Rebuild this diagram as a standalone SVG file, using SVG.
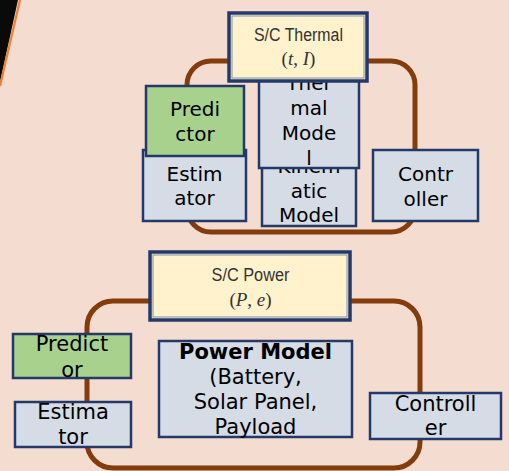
<svg xmlns="http://www.w3.org/2000/svg" width="509" height="471" viewBox="0 0 509 471">
<style>
.loop{fill:none;stroke:#843C0C;stroke-width:5}
.blue{fill:#D6DCE5;stroke:#22396A;stroke-width:2.5}
.green{fill:#A9D18E;stroke:#22396A;stroke-width:2.5}
.yel{fill:#FFF2CC;stroke:#22396A;stroke-width:3.5}
.inner{fill:none;stroke:#7F8FAA;stroke-width:1}
.t{font-family:"DejaVu Sans",sans-serif;font-size:20px;fill:#000;text-anchor:middle}
.t2{font-family:"DejaVu Sans",sans-serif;font-size:21px;fill:#000;text-anchor:middle}
.b{font-weight:bold}
.h{font-family:"Liberation Sans",sans-serif;font-size:18px;fill:#333;text-anchor:middle}
.m{font-family:"Liberation Serif",serif;font-size:19px;fill:#333;text-anchor:middle}
</style>
<rect width="509" height="471" fill="#F4DDD0"/>
<polygon points="0,0 18,0 0,82" fill="#0A0A0A"/>
<line x1="20" y1="0" x2="0" y2="86" stroke="#F08030" stroke-width="2.2"/>
<g id="connectors">
<rect class="loop" x="187" y="61" width="228" height="171" rx="24"/>
<rect class="loop" x="87" y="301" width="333" height="167" rx="26"/>
</g>
<g id="thermal-kinematic">
<rect class="blue" x="262" y="160" width="94" height="66"/>
<text class="t" x="309" y="173">Kinem</text>
<text class="t" x="309" y="198">atic</text>
<text class="t" x="309" y="222">Model</text>
</g>
<g id="thermal-model">
<rect class="blue" x="259" y="72" width="100" height="96"/>
<text class="t" x="309" y="90">Ther</text>
<text class="t" x="309" y="115">mal</text>
<text class="t" x="309" y="140">Mode</text>
<text class="t" x="309" y="165">l</text>
</g>
<g id="thermal-estimator">
<rect class="blue" x="143" y="150" width="103" height="71"/>
<text class="t" x="194.5" y="181">Estim</text>
<text class="t" x="194.5" y="205">ator</text>
</g>
<g id="thermal-predictor">
<rect class="green" x="146" y="86" width="98" height="70"/>
<text class="t" x="195" y="116">Predi</text>
<text class="t" x="195" y="141">ctor</text>
</g>
<g id="thermal-controller">
<rect class="blue" x="373" y="150" width="105" height="71"/>
<text class="t" x="425.5" y="181">Contr</text>
<text class="t" x="425.5" y="206">oller</text>
</g>
<g id="sc-thermal">
<rect class="yel" x="229" y="13" width="138" height="68"/>
<rect class="inner" x="232" y="16" width="132" height="62"/>
<text class="h" x="298.5" y="41" textLength="89" lengthAdjust="spacingAndGlyphs">S/C Thermal</text>
<text class="m" x="298.5" y="65">(<tspan font-style="italic">t</tspan>, <tspan font-style="italic">I</tspan>)</text>
</g>
<g id="sc-power">
<rect class="yel" x="150" y="252" width="200" height="68"/>
<rect class="inner" x="153" y="255" width="194" height="62"/>
<text class="h" x="250.5" y="281" textLength="78" lengthAdjust="spacingAndGlyphs">S/C Power</text>
<text class="m" x="250.5" y="306">(<tspan font-style="italic">P</tspan>, <tspan font-style="italic">e</tspan>)</text>
</g>
<g id="power-predictor">
<rect class="green" x="13" y="334" width="118" height="44"/>
<text class="t2" x="72" y="351">Predict</text>
<text class="t2" x="72" y="377">or</text>
</g>
<g id="power-estimator">
<rect class="blue" x="15" y="402" width="116" height="45"/>
<text class="t2" x="73" y="419">Estima</text>
<text class="t2" x="73" y="444">tor</text>
</g>
<g id="power-model">
<rect class="blue" x="159" y="341" width="193" height="96"/>
<text class="t2 b" x="255.5" y="359">Power Model</text>
<text class="t2" x="255.5" y="384">(Battery,</text>
<text class="t2" x="255.5" y="409">Solar Panel,</text>
<text class="t2" x="255.5" y="434">Payload</text>
</g>
<g id="power-controller">
<rect class="blue" x="370" y="393" width="131" height="46"/>
<text class="t2" x="435.5" y="411">Controll</text>
<text class="t2" x="435.5" y="435">er</text>
</g>
</svg>
